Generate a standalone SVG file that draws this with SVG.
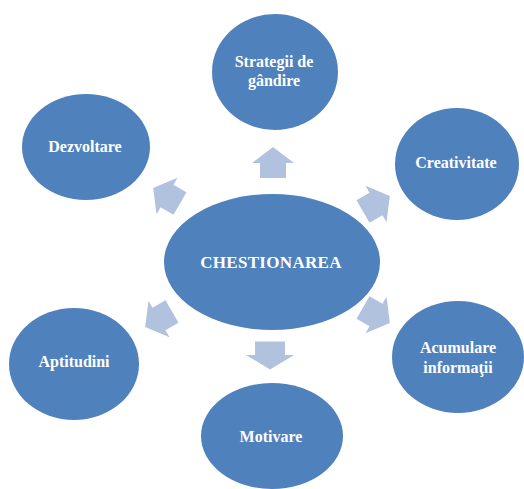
<svg xmlns="http://www.w3.org/2000/svg" width="524" height="489" viewBox="0 0 524 489">
<style>
.node{fill:#4f81bd}
.lbl{font-family:"Liberation Serif","Times New Roman",serif;font-weight:bold;font-size:16px;fill:#ffffff;text-anchor:middle}
.arr{fill:#b0c2de}
</style>
<defs>
<path id="arrow" d="M0,-16 L21,0 L13,0 L13,15 L-13,15 L-13,0 L-21,0 Z"/>
</defs>
<rect width="524" height="489" fill="#ffffff"/>
<g id="connectors" class="arr">
<use href="#arrow" transform="translate(273,163)"/>
<use href="#arrow" transform="translate(376,204) rotate(60)"/>
<use href="#arrow" transform="translate(376,315) rotate(120)"/>
<use href="#arrow" transform="translate(270,355) rotate(180) scale(1.15,0.9)"/>
<use href="#arrow" transform="translate(159,319) rotate(240)"/>
<use href="#arrow" transform="translate(167,196) rotate(300)"/>
</g>
<g id="center">
<ellipse class="node" cx="272" cy="262" rx="108" ry="68"/>
<text class="lbl" x="271" y="268" style="font-size:17px;letter-spacing:0.3px">CHESTIONAREA</text>
</g>
<g id="strategii">
<ellipse class="node" cx="275" cy="72" rx="63" ry="58"/>
<text class="lbl" x="274" y="67">Strategii de</text>
<text class="lbl" x="274" y="86">gândire</text>
</g>
<g id="creativitate">
<ellipse class="node" cx="457" cy="164" rx="62" ry="56"/>
<text class="lbl" x="456" y="168">Creativitate</text>
</g>
<g id="acumulare">
<ellipse class="node" cx="458" cy="357" rx="66" ry="56"/>
<text class="lbl" x="458" y="353">Acumulare</text>
<text class="lbl" x="458" y="373">informaţii</text>
</g>
<g id="motivare">
<ellipse class="node" cx="272" cy="436" rx="71" ry="53"/>
<text class="lbl" x="271" y="442">Motivare</text>
</g>
<g id="aptitudini">
<ellipse class="node" cx="74" cy="364" rx="65" ry="56"/>
<text class="lbl" x="74" y="367">Aptitudini</text>
</g>
<g id="dezvoltare">
<ellipse class="node" cx="86" cy="147" rx="64" ry="53"/>
<text class="lbl" x="85" y="152">Dezvoltare</text>
</g>
</svg>
